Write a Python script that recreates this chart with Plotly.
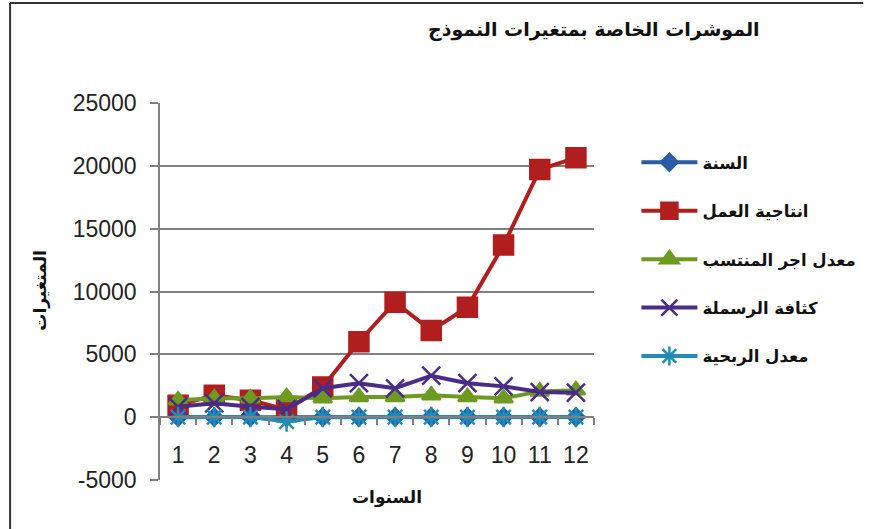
import plotly.graph_objects as go

years = ["1", "2", "3", "4", "5", "6", "7", "8", "9", "10", "11", "12"]

series_names = ["السنة", "انتاجية العمل", "معدل اجر المنتسب", "كثافة الرسملة", "معدل الربحية"]

sana = [1, 2, 3, 4, 5, 6, 7, 8, 9, 10, 11, 12]
intajiya = [950, 1750, 1350, 600, 2400, 6000, 9150, 6900, 8750, 13700, 19700, 20650]
ajr = [1350, 1500, 1500, 1600, 1500, 1600, 1600, 1750, 1600, 1500, 2050, 2150]
kathafa = [820, 1100, 820, 640, 2300, 2700, 2300, 3300, 2700, 2450, 2000, 1950]
ribhiya = [10, 10, 10, -350, 10, 10, 10, 10, 10, 10, 10, 10]

y_ticks = [-5000, 0, 5000, 10000, 15000, 20000, 25000]
y_ticktext = ["-5000", "0", "5000", "10000", "15000", "20000", "25000"]

colors = ["#2B5CA8", "#B01E1E", "#6E9A22", "#4A2C86", "#1F8DB5"]
symbols = ["diamond", "square", "triangle-up", "x-thin-open", "asterisk-open"]
sizes = [13, 19, 16, 18, 17]

data = [sana, intajiya, ajr, kathafa, ribhiya]

fig = go.Figure()
for i, (name, vals) in enumerate(zip(series_names, data)):
    fig.add_trace(go.Scatter(
        x=years, y=vals, name=name, mode="lines+markers",
        legendgroup=f"g{i}",
        line=dict(color=colors[i], width=4),
        marker=dict(symbol=symbols[i], size=sizes[i], color=colors[i],
                    line=dict(color=colors[i], width=2.5)),
    ))

# plot area pixel box: x 160..600, y 103..480
W, H = 873, 529
L, R, T, B = 160, 600, 103, 480
def px(x):
    return (x - L) / (R - L)
def py(y):
    return (B - y) / (B - T)

fig.update_layout(
    width=W, height=H,
    margin=dict(l=L, r=W - R, t=T, b=H - B),
    paper_bgcolor="white", plot_bgcolor="white",
    font=dict(family="Liberation Sans, Arial, sans-serif", color="#222"),
    showlegend=True,
    legend=dict(x=px(643), y=py(145), xanchor="left", yanchor="top",
                font=dict(family="DejaVu Sans", size=16.5, color="#111", weight="bold"),
                tracegroupgap=24, bgcolor="rgba(0,0,0,0)", itemwidth=56),
    xaxis=dict(type="category", range=[-0.5, 11.5], anchor="free",
               position=5000 / 30000, showline=True, linecolor="#808080",
               linewidth=1.5, ticks="outside", ticklen=7, tickcolor="#808080",
               tickwidth=1.5, tickson="boundaries", showgrid=False,
               tickfont=dict(size=23, color="#222"), ticklabelstandoff=17),
    yaxis=dict(range=[-5000, 25000], tickvals=y_ticks, ticktext=y_ticktext,
               showgrid=True,
               gridcolor="#808080", gridwidth=1.5, zeroline=False,
               showline=True, linecolor="#808080", linewidth=1.5,
               ticks="outside", ticklen=8, tickcolor="#808080", tickwidth=1.5,
               tickfont=dict(size=23, color="#222"), ticklabelstandoff=9),
)

fig.add_annotation(text="<b>الموشرات الخاصة بمتغيرات النموذج</b>", x=px(600), y=py(30),
                   xanchor="center", yanchor="middle",
                   xref="paper", yref="paper", showarrow=False,
                   font=dict(family="DejaVu Sans", size=19, color="#111"))
fig.add_annotation(text="<b>السنوات</b>", x=px(390), y=py(497),
                   xanchor="center", yanchor="middle",
                   xref="paper", yref="paper", showarrow=False,
                   font=dict(family="DejaVu Sans", size=17, color="#111"))
fig.add_annotation(text="<b>المتغيرات</b>", x=px(38), y=py(290), textangle=-90,
                   xanchor="center", yanchor="middle",
                   xref="paper", yref="paper", showarrow=False,
                   font=dict(family="DejaVu Sans", size=17, color="#111"))

# outer frame (top and left edges)
fig.add_shape(type="line", xref="paper", yref="paper", x0=px(8), x1=px(873),
              y0=py(3), y1=py(3), line=dict(color="#333", width=2))
fig.add_shape(type="line", xref="paper", yref="paper", x0=px(8), x1=px(8),
              y0=py(3), y1=py(529), line=dict(color="#333", width=2))

fig.write_html("out.html")
